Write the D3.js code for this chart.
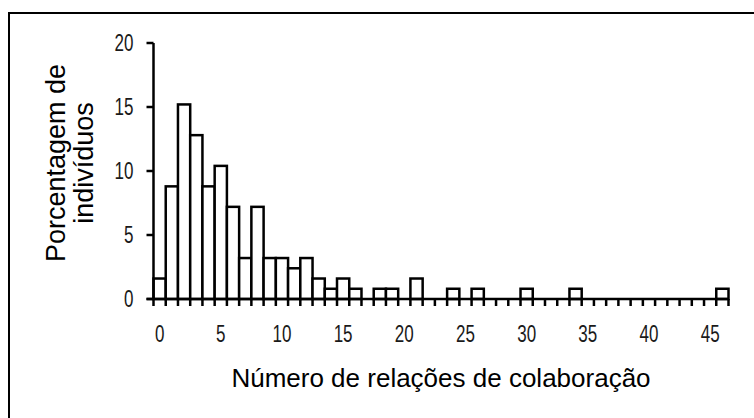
<!DOCTYPE html>
<html><head><meta charset="utf-8">
<script src="https://cdn.jsdelivr.net/npm/d3@7"></script>
<style>
html,body{margin:0;padding:0;background:#fff;}
svg{display:block;}
</style></head>
<body>
<script>
// Data: percentage of individuals per number of collaboration relations (bins 0..46)
const bins = d3.range(0, 47);
const percentages = [1.6, 8.8, 15.2, 12.8, 8.8, 10.4, 7.2, 3.2, 7.2, 3.2,
                     3.2, 2.4, 3.2, 1.6, 0.8, 1.6, 0.8, 0, 0.8, 0.8,
                     0, 1.6, 0, 0, 0.8, 0, 0.8, 0, 0, 0,
                     0.8, 0, 0, 0, 0.8, 0, 0, 0, 0, 0,
                     0, 0, 0, 0, 0, 0, 0.8];
const xTickLabels = [0, 5, 10, 15, 20, 25, 30, 35, 40, 45];
const yTickValues = [0, 5, 10, 15, 20];
const xTitle = "Número de relações de colaboração";
const yTitleLines = ["Porcentagem de", "indivíduos"];

const W = 754, H = 418;
const svg = d3.select("body").append("svg").attr("width", W).attr("height", H);

// outer frame (cropped at right/bottom)
svg.append("rect").attr("x", 9).attr("y", 13).attr("width", 800).attr("height", 500)
  .attr("fill", "none").attr("stroke", "#000").attr("stroke-width", 2);

const x = d3.scaleLinear().domain([0, 47]).range([153.5, 728.5]);
const y = d3.scaleLinear().domain([0, 20]).range([299, 43]);

const tickFont = "'Liberation Sans', Arial, sans-serif";
const squeeze = 0.74;

// bars
svg.append("g").selectAll("rect").data(bins).join("rect")
  .attr("x", d => x(d))
  .attr("y", d => y(percentages[d]))
  .attr("width", d => x(d + 1) - x(d))
  .attr("height", d => y(0) - y(percentages[d]))
  .attr("fill", "#fff").attr("stroke", "#000").attr("stroke-width", 2.5);

// x axis: line + ticks at every bin boundary
const xg = svg.append("g").attr("transform", `translate(0,${y(0)})`);
xg.append("line").attr("x1", x(0) - 7).attr("x2", x(47)).attr("y1", 0).attr("y2", 0)
  .attr("stroke", "#000").attr("stroke-width", 2.5);
xg.selectAll("line.tk").data(d3.range(0, 48)).join("line").attr("class", "tk")
  .attr("x1", d => x(d)).attr("x2", d => x(d)).attr("y1", 0).attr("y2", 7)
  .attr("stroke", "#000").attr("stroke-width", 2.5);
xg.selectAll("text").data(xTickLabels).join("text")
  .attr("transform", d => `translate(${(x(d) + x(d + 1)) / 2},43) scale(${squeeze},1)`)
  .attr("text-anchor", "middle").attr("fill", "#1a1a1a")
  .attr("font-family", tickFont).attr("font-size", 23)
  .text(d => d);

// y axis
const yg = svg.append("g").attr("transform", `translate(${x(0)},0)`);
yg.append("line").attr("x1", 0).attr("x2", 0).attr("y1", y(20)).attr("y2", y(0))
  .attr("stroke", "#000").attr("stroke-width", 2.5);
yg.selectAll("line.tk").data(yTickValues).join("line").attr("class", "tk")
  .attr("x1", -7).attr("x2", 0).attr("y1", d => y(d)).attr("y2", d => y(d))
  .attr("stroke", "#000").attr("stroke-width", 2.5);
yg.selectAll("text").data(yTickValues).join("text")
  .attr("transform", d => `translate(-20,${y(d)}) scale(${squeeze},1)`)
  .attr("dy", "0.36em")
  .attr("text-anchor", "end").attr("fill", "#1a1a1a")
  .attr("font-family", tickFont).attr("font-size", 23)
  .text(d => d);

// titles
svg.append("text").attr("x", 441).attr("y", 387).attr("text-anchor", "middle")
  .attr("font-family", "'Liberation Sans', Arial, sans-serif").attr("font-size", 26)
  .text(xTitle);

const yt = svg.append("text").attr("transform", "translate(65,163) rotate(-90)")
  .attr("text-anchor", "middle")
  .attr("font-family", "'Liberation Sans', Arial, sans-serif").attr("font-size", 27);
yt.selectAll("tspan").data(yTitleLines).join("tspan")
  .attr("x", 0).attr("dy", (d, i) => i === 0 ? 0 : 28).text(d => d);
</script>
</body></html>
